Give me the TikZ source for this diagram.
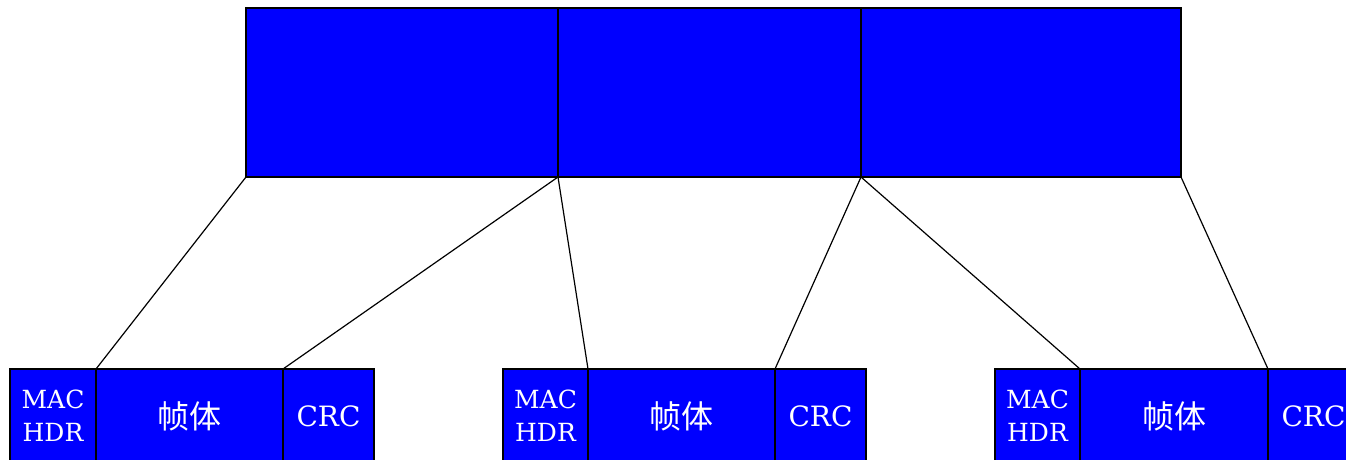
\documentclass[tikz,border=0pt]{standalone}
\usepackage{fontspec}
\newfontfamily\latf{DejaVu Serif}
\newfontfamily\cjk{Noto Sans CJK SC}
\begin{document}
\begin{tikzpicture}[x=1pt,y=-1pt,
  seg/.style={draw=black,fill=blue,line width=1.5pt,inner sep=0pt,outer sep=0pt,
    anchor=north west,text=white,align=center},
  topseg/.style={seg,minimum height=169pt},
  botseg/.style={seg,minimum height=94pt},
  lat/.style={font=\fontsize{25}{33}\selectfont\latf},
  crc/.style={font=\fontsize{28}{33}\selectfont\latf},
  han/.style={font=\fontsize{32}{33}\selectfont\cjk},
  link/.style={draw=black,line width=1.2pt}]
\useasboundingbox (0,0) rectangle (1346,459);
% top frame
\node[topseg,minimum width=312pt] (T1) at (246,8) {};
\node[topseg,minimum width=303pt] (T2) at (558,8) {};
\node[topseg,minimum width=320pt] (T3) at (861,8) {};
% bottom frames
\node[botseg,lat,minimum width=86pt]  (H1) at (10,369) {MAC\\HDR};
\node[botseg,han,minimum width=187pt] (B1) at (96,369) {帧体};
\node[botseg,crc,minimum width=91pt]  (C1) at (283,369) {CRC};
\node[botseg,lat,minimum width=85pt]  (H2) at (503,369) {MAC\\HDR};
\node[botseg,han,minimum width=187pt] (B2) at (588,369) {帧体};
\node[botseg,crc,minimum width=91pt]  (C2) at (775,369) {CRC};
\node[botseg,lat,minimum width=85pt]  (H3) at (995,369) {MAC\\HDR};
\node[botseg,han,minimum width=188pt] (B3) at (1080,369) {帧体};
\node[botseg,crc,minimum width=91pt]  (C3) at (1268,369) {CRC};
% connectors
\draw[link] (T1.south west) -- (H1.north east);
\draw[link] (T2.south west) -- (B1.north east);
\draw[link] (T2.south west) -- (H2.north east);
\draw[link] (T3.south west) -- (B2.north east);
\draw[link] (T3.south west) -- (H3.north east);
\draw[link] (T3.south east) -- (B3.north east);
\end{tikzpicture}
\end{document}
